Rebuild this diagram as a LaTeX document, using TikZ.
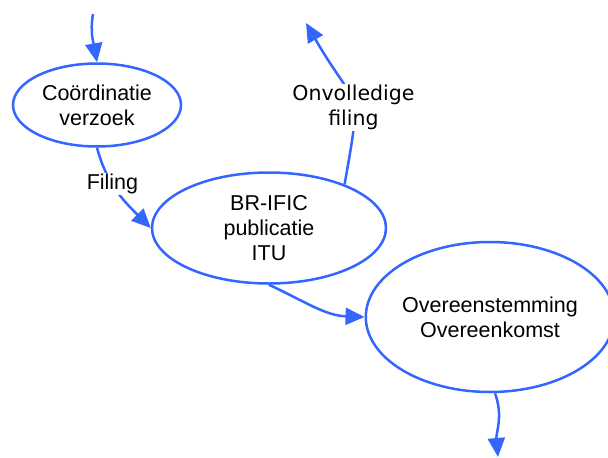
\documentclass[tikz,border=0pt]{standalone}
\usepackage{fontspec}
\setmainfont{Liberation Sans}
\newfontfamily\dejavu{DejaVu Sans}
\usetikzlibrary{shapes.geometric,arrows.meta}
\definecolor{flowblue}{RGB}{51,102,255}

\begin{document}
\begin{tikzpicture}[x=1pt,y=-1pt,
state/.style={ellipse, draw=flowblue, line width=2.5pt, align=center, inner sep=0pt,
  font=\fontsize{21.5}{25}\selectfont},
flow/.style={draw=flowblue, line width=2.5pt, -{Triangle[length=19pt,width=17pt]}},
lbl/.style={fill=white, inner sep=1pt, align=center, font=\fontsize{21.5}{25}\selectfont}]

\useasboundingbox (0,0) rectangle (608,458);

\node[state, minimum width=168pt, minimum height=83pt] (verzoek) at (97,105) {Coördinatie\\verzoek};
\node[state, minimum width=234pt, minimum height=111pt] (ific) at (269,228) {BR-IFIC\\publicatie\\ITU};
\node[state, minimum width=236pt, minimum height=150pt] (akkoord) at (490,317) {Overeenstemming\\Overeenkomst};

\coordinate (start) at (93,14);
\coordinate (terug) at (306,23);
\coordinate (einde) at (498,457);

\draw[flow] (start) to[out=-100,in=100] (verzoek.north);
\draw[flow] (verzoek.south) to[out=-75,in=135] node[lbl, pos=0.4] (filing) {Filing} (ific.west);
\draw[flow] (ific.30) to[out=80,in=-60,looseness=1.6] node[lbl, pos=0.42, font=\dejavu\fontsize{20.5}{25}\selectfont] (onvol) {Onvolledige\\filing} (terug);
\draw[flow] (ific.south) to[out=-25,in=178] (akkoord.west);
\draw[flow] ([xshift=5pt]akkoord.south) to[out=-70,in=95] (einde);
\end{tikzpicture}
\end{document}
